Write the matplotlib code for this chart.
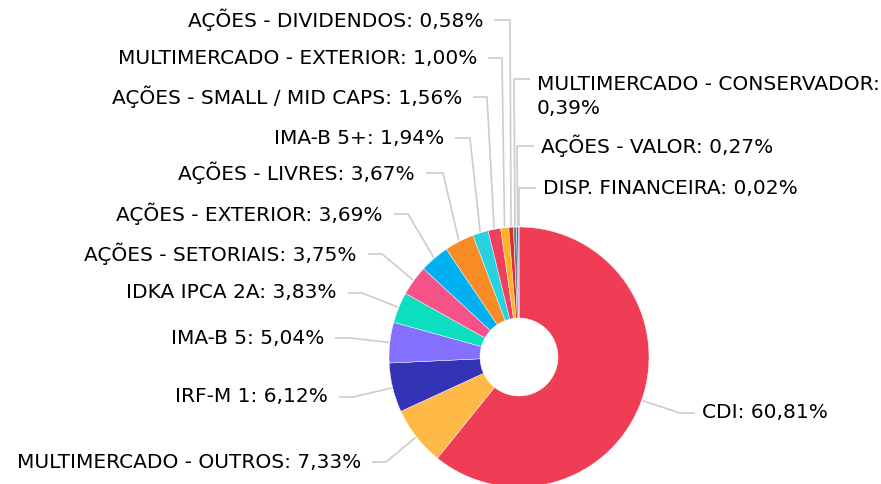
import matplotlib.pyplot as plt
import numpy as np

# allocation data
labels = ['CDI', 'MULTIMERCADO - OUTROS', 'IRF-M 1', 'IMA-B 5', 'IDKA IPCA 2A',
          'AÇÕES - SETORIAIS', 'AÇÕES - EXTERIOR', 'AÇÕES - LIVRES', 'IMA-B 5+',
          'AÇÕES - SMALL / MID CAPS', 'MULTIMERCADO - EXTERIOR', 'AÇÕES - DIVIDENDOS',
          'MULTIMERCADO - CONSERVADOR', 'AÇÕES - VALOR', 'DISP. FINANCEIRA']
values = [60.81, 7.33, 6.12, 5.04, 3.83, 3.75, 3.69, 3.67, 1.94, 1.56, 1.00, 0.58, 0.39, 0.27, 0.02]
colors = ['#EF3D55', '#FFB946', '#3333B5', '#8470FF', '#0CDFC0', '#F5528A', '#00B1F2',
          '#F78C26', '#27D1E0', '#F03F5E', '#FDB228', '#E22D26', '#5E8490', '#8A45B5', '#3333B5']

# label layout in pixels: (x anchor, y, side, elbow x)
layout = [(702, 413, 'L', 680), (361, 462, 'R', 386), (328, 397, 'R', 353),
          (324, 338, 'R', 350), (337, 293, 'R', 362), (357, 254, 'R', 382),
          (383, 214, 'R', 408), (415, 173, 'R', 443), (444, 138, 'R', 470),
          (462, 97, 'R', 487), (477, 58, 'R', 502), (483, 20, 'R', 510),
          (537, 79, 'L', 514), (541, 146, 'L', 517), (543, 188, 'L', 519)]

W, H = 881, 484
cx, cy, R, r_in = 519, 357, 130, 39
FS = 14.5

fig = plt.figure(figsize=(W / 100, H / 100), dpi=100)
ax = fig.add_axes([0, 0, 1, 1])

ax.pie(values, colors=colors, startangle=90, counterclock=False, radius=R,
       center=(cx, H - cy), frame=True,
       wedgeprops=dict(width=R - r_in, edgecolor='white', linewidth=0.3))
ax.set_xlim(0, W)
ax.set_ylim(0, H)
ax.set_aspect('equal')
ax.axis('off')


def pct(v):
    return f'{v:.2f}%'.replace('.', ',')


cum = np.cumsum([0] + values[:-1])
for i, (lab, v) in enumerate(zip(labels, values)):
    tx, ty, side, ex = layout[i]
    mid = (cum[i] + v / 2) / 100 * 2 * np.pi
    px = cx + (R + 1) * np.sin(mid)
    py = cy - (R + 1) * np.cos(mid)
    hx = tx + 11 if side == 'R' else tx - 7
    ax.plot([px, ex, hx], [H - py, H - ty, H - ty], color='#CCCCCC', lw=1.2,
            solid_capstyle='butt', zorder=1)
    if lab == 'MULTIMERCADO - CONSERVADOR':
        ax.text(tx, H - ty + 4, f'{lab}:\n{pct(v)}', ha='left', va='top', fontsize=FS,
                color='#000000', linespacing=1.3)
        continue
    ax.text(tx, H - ty, f'{lab}: {pct(v)}', ha='right' if side == 'R' else 'left',
            va='center', fontsize=FS, color='#000000')

fig.savefig('out.png', dpi=100)
